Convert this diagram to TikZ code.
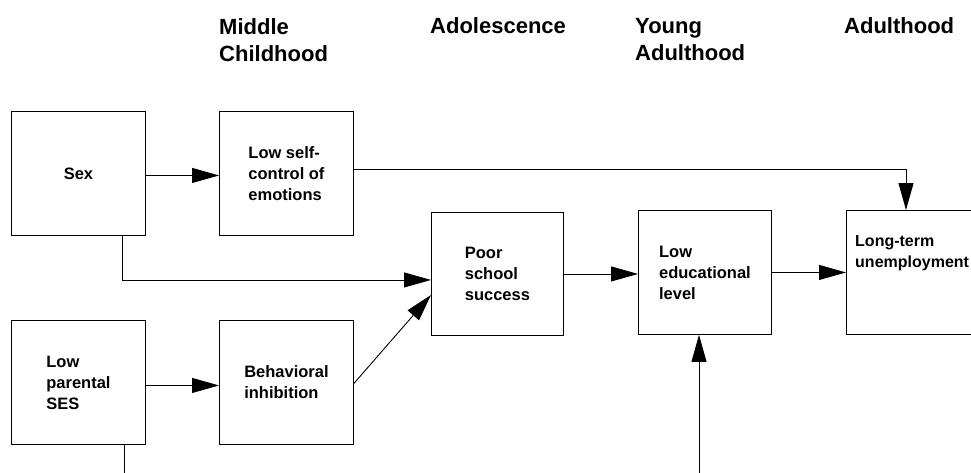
\documentclass[tikz,border=0pt]{standalone}
\usepackage{fontspec}
\setmainfont{Liberation Sans}
\usetikzlibrary{arrows.meta}

\begin{document}
\begin{tikzpicture}[
		x=1pt, y=-1pt,
		box/.style={draw, line width=0.9pt, minimum width=134pt, minimum height=124pt,
			inner sep=0pt, anchor=north west, align=left,
			font=\bfseries\fontsize{16.5}{21}\selectfont},
		period/.style={anchor=north west, inner sep=0pt, align=left,
			font=\bfseries\fontsize{22}{27}\selectfont},
		link/.style={line width=0.9pt, -{Triangle[length=27pt, width=15pt]}},
		wire/.style={line width=0.9pt}
	]

	\useasboundingbox (0,0) rectangle (971,472);
	\clip (0,0) rectangle (971,472);

	% Life periods
	\node[period] (midchild) at (219,18) {Middle\\Childhood};
	\node[period] (adolesc) at (430,17) {Adolescence};
	\node[period] (youngad) at (635,18) {Young\\Adulthood};
	\node[period] (adult) at (844,17) {Adulthood};

	% Boxes
	\node[box] (sex) at (11,111) {Sex};
	\node[box] (lsc) at (219,111) {Low self-\\control of\\emotions};
	\node[box] (lps) at (11,320) {Low\\parental\\SES};
	\node[box] (beh) at (219,320) {Behavioral\\inhibition};
	\node[box, minimum width=132pt, minimum height=123pt] (pss) at (431,212) {Poor\\school\\success};
	\node[box, minimum width=133pt] (led) at (638,210) {Low\\educational\\level};
	\node[box, minimum width=150pt,
		label={[anchor=north west, inner sep=0pt, xshift=9pt, yshift=-25pt, align=left,
			font=\bfseries\fontsize{16}{21}\selectfont]north west:{Long-term\\unemployment}}]
		(lt) at (846,210) {};

	% Paths
	\draw[link] ([yshift=-2pt]sex.east) -- ([yshift=-2pt]lsc.west);
	\draw[link] ([yshift=4pt]lsc.east) -| ([xshift=60pt]lt.north west);
	\draw[link] ([xshift=111pt]sex.south west) |- ([yshift=-6pt]pss.west);
	\draw[link] ([yshift=-3pt]lps.east) -- ([yshift=-3pt]beh.west);
	\draw[link] ([yshift=-1pt]beh.east) -- ([yshift=-21pt]pss.west);
	\draw[link] (pss.east) -- (pss.east -| led.west);
	\draw[link] (led.east) -- (lt.west);

	% Open ends at the bottom edge
	\coordinate (sesout) at (124,480);
	\coordinate (edin) at (699,480);
	\draw[wire] ([xshift=113pt]lps.south west) -- (sesout);
	\draw[link] (edin) -- (edin |- led.south);

\end{tikzpicture}
\end{document}
